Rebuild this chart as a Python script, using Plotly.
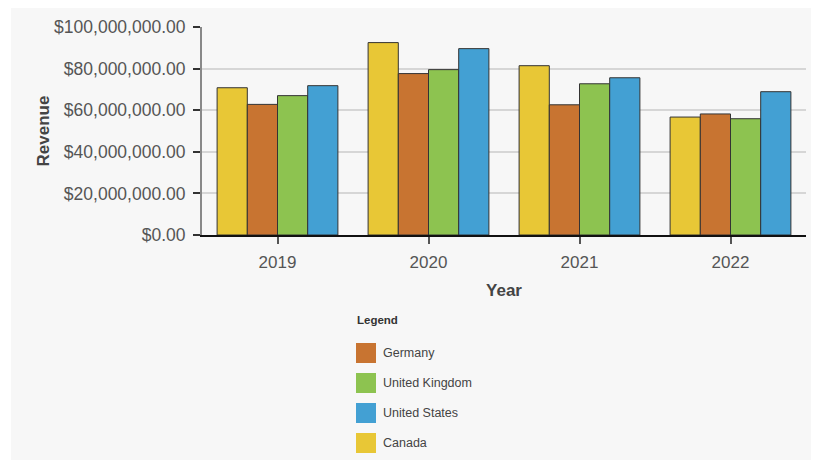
import plotly.graph_objects as go

years = ["2019", "2020", "2021", "2022"]
series_names = ["Canada", "Germany", "United Kingdom", "United States"]
canada = [70.8e6, 92.5e6, 81.4e6, 56.7e6]
germany = [62.8e6, 77.6e6, 62.6e6, 58.2e6]
united_kingdom = [67.0e6, 79.5e6, 72.7e6, 55.9e6]
united_states = [71.8e6, 89.6e6, 75.6e6, 68.9e6]
series_values = [canada, germany, united_kingdom, united_states]
colors = ["#e8c736", "#c87431", "#8dc350", "#43a0d3"]
legend_order = ["Germany", "United Kingdom", "United States", "Canada"]
y_ticks = [0, 20e6, 40e6, 60e6, 80e6, 100e6]

fig = go.Figure()
for name, vals, col in zip(series_names, series_values, colors):
    fig.add_trace(go.Bar(x=years, y=vals, name=name, marker_color=col,
                         marker_line_color="#333333", marker_line_width=1,
                         showlegend=False))

# page is rendered with an 8px body margin; work in figure coordinates
OFF = 8
W, H = 811, 452
L, R, T, B = 194, 13, 19, 225
pw, ph = W - L - R, H - T - B

def px(x):
    return (x - OFF - L) / pw

def py(y):
    return (H - B - (y - OFF)) / ph

shapes = [dict(type="rect", xref="paper", yref="paper", x0=px(11), x1=px(822),
               y0=py(462), y1=py(6), fillcolor="#f7f7f7", line_width=0, layer="below")]
annotations = [dict(text="<b>Legend</b>", xref="paper", yref="paper", x=px(355), y=py(320),
                    xanchor="left", yanchor="middle", showarrow=False,
                    font=dict(size=11.5, color="#333333"))]
color_map = dict(zip(series_names, colors))
for i, name in enumerate(legend_order):
    cy = 353 + 30 * i
    shapes.append(dict(type="rect", xref="paper", yref="paper", x0=px(356), x1=px(376),
                       y0=py(cy + 10), y1=py(cy - 10), fillcolor=color_map[name], line_width=0))
    annotations.append(dict(text=name, xref="paper", yref="paper", x=px(381), y=py(cy),
                            xanchor="left", yanchor="middle", showarrow=False,
                            font=dict(size=12.5, color="#444444")))

fig.update_layout(
    width=W, height=H,
    margin=dict(l=L, r=R, t=T, b=B, autoexpand=False),
    paper_bgcolor="white", plot_bgcolor="#f7f7f7",
    font=dict(family="Liberation Sans, Arial, sans-serif", color="#555555"),
    barmode="group", bargap=0.2, bargroupgap=0,
    shapes=shapes, annotations=annotations,
    xaxis=dict(type="category", showline=True, linecolor="#111111", linewidth=1.5,
               ticks="outside", ticklen=7, tickcolor="#555555", tickwidth=1.5,
               ticklabelstandoff=4,
               tickfont=dict(size=17, color="#555555"),
               title=dict(text="<b>Year</b>", font=dict(size=17, color="#444444"), standoff=13)),
    yaxis=dict(range=[0, 100e6], tickvals=y_ticks,
               tickformat="$,.2f",
               showline=True, linecolor="#888888", linewidth=2,
               ticks="outside", ticklen=7, tickcolor="#333333", tickwidth=1.5,
               ticklabelstandoff=4,
               gridcolor="#d6d6d6", gridwidth=1.5, zeroline=False,
               tickfont=dict(size=17.5, color="#555555"),
               title=dict(text="<b>Revenue</b>", font=dict(size=17, color="#444444"), standoff=0)),
)

fig.write_html("out.html")
